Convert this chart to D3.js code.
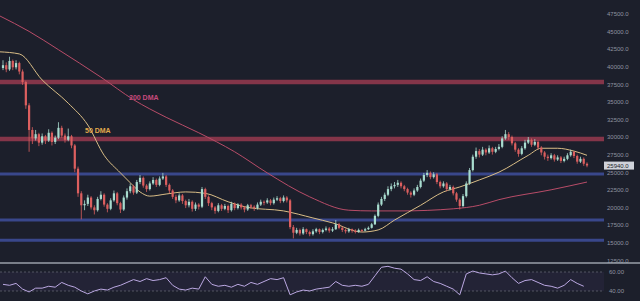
<!DOCTYPE html>
<html>
<head>
<meta charset="utf-8">
<script src="https://cdn.jsdelivr.net/npm/d3@7"></script>
<style>
  html, body { margin: 0; padding: 0; background: #1c1f2b; overflow: hidden; }
  svg { display: block; }
</style>
</head>
<body>
<script>
'use strict'

const BG      = '#1c1f2b'
const BULL    = '#a8dccf'
const BEAR    = '#dc5f5f'
const REDBAND = '#973a4f'
const BLUEBAND = '#3d4c96'
const MA50C   = '#d9bd86'
const MA200C  = '#b84c68'
const AXISTXT = '#9093a0'
const RSIC    = '#bba8e2'

// prices in thousands of USD, one candle per period, open = previous close
const firstOpen = 39.8
const closes = [
  40.2, 39.6, 40.8, 39.9, 40.5, 39.3, 37.8, 34.5, 31.0, 29.8,
  30.4, 29.2, 30.1, 29.5, 30.6, 29.3, 29.9, 31.3, 30.2, 29.6,
  30.1, 28.8, 25.5, 22.0, 20.3, 20.5, 21.4, 20.0, 19.6, 21.2,
  21.8, 20.4, 19.8, 21.0, 22.0, 20.6, 19.7, 21.4, 22.3, 23.0,
  22.1, 23.6, 24.2, 23.1, 22.6, 23.4, 23.9, 23.2, 24.1, 24.4,
  23.2, 22.4, 21.5, 21.0, 21.7, 20.9, 20.3, 20.8, 19.8, 20.4,
  20.1, 22.6, 21.5, 20.6, 20.0, 19.5, 20.3, 19.8, 20.2, 19.6,
  20.5, 19.9, 20.4, 20.0, 19.7, 20.3, 20.1, 19.9, 20.4, 20.8,
  20.7, 21.0, 20.6, 21.1, 21.3, 20.9, 21.4, 21.0, 17.2, 16.4,
  16.8, 16.3, 16.9, 16.5, 16.2, 16.6, 16.9, 16.5, 16.8, 17.0,
  16.7, 16.9, 17.6, 17.1, 16.8, 16.6, 16.9, 16.7, 16.5, 16.8,
  16.7, 16.9, 17.1, 17.6, 18.8, 20.4, 21.2, 21.8, 22.6, 23.0,
  23.2, 23.5, 23.0, 22.6, 22.1, 21.8, 22.4, 22.9, 23.8, 24.6,
  24.9, 24.3, 24.7, 23.6, 23.0, 23.4, 22.6, 22.9, 22.0, 21.1,
  20.2, 21.6, 23.4, 25.3, 27.2, 28.0, 27.5, 28.2, 27.8, 28.4,
  27.9, 28.3, 28.6, 29.8, 30.4, 30.0, 29.1, 28.2, 27.6, 28.4,
  29.2, 29.6, 28.9, 29.3, 28.5, 27.8, 27.2, 27.0, 27.4, 26.8,
  27.1, 26.6, 26.9, 27.4, 27.9, 27.3, 26.5, 26.9, 26.2, 25.95
]
const highs = [
  40.9, 40.6, 41.4, 41.0, 40.9, 40.7, 39.6, 38.0, 34.8, 31.4,
  31.0, 30.6, 30.5, 30.3, 31.1, 30.8, 30.2, 32.1, 31.6, 30.5,
  31.2, 30.3, 29.0, 25.8, 22.3, 21.0, 21.8, 21.6, 20.3, 21.5,
  22.3, 22.0, 20.6, 21.3, 22.4, 22.2, 20.8, 21.7, 22.7, 23.4,
  23.2, 23.9, 24.6, 24.4, 23.3, 23.7, 24.3, 24.1, 24.4, 24.9,
  24.6, 23.4, 22.6, 21.8, 22.0, 21.9, 21.1, 21.2, 21.0, 20.7,
  20.6, 22.9, 22.8, 21.7, 20.8, 20.2, 20.6, 20.5, 20.5, 20.4,
  20.8, 20.7, 20.6, 20.6, 20.2, 20.5, 20.5, 20.3, 20.7, 21.1,
  21.0, 21.3, 21.2, 21.4, 21.6, 21.5, 21.7, 21.6, 21.2, 17.5,
  17.1, 17.0, 17.2, 17.0, 16.7, 16.9, 17.1, 17.0, 17.0, 17.3,
  17.2, 17.2, 18.2, 17.8, 17.3, 17.0, 17.1, 17.0, 16.9, 17.0,
  16.9, 17.1, 17.3, 17.8, 19.0, 20.7, 21.5, 22.1, 23.0, 23.4,
  23.6, 23.9, 23.7, 23.2, 22.8, 22.3, 22.7, 23.2, 24.1, 24.9,
  25.3, 25.1, 25.0, 24.9, 23.8, 23.7, 23.6, 23.2, 23.1, 22.2,
  21.3, 21.9, 23.7, 25.6, 27.5, 28.5, 28.3, 28.6, 28.4, 28.8,
  28.6, 28.6, 29.0, 30.1, 31.0, 30.7, 30.2, 29.3, 28.4, 28.7,
  29.6, 30.0, 29.8, 29.7, 29.5, 28.7, 28.0, 27.5, 27.7, 27.6,
  27.4, 27.3, 27.2, 27.7, 28.2, 28.0, 27.5, 27.2, 27.1, 26.4
]
const lows = [
  39.5, 39.2, 39.4, 39.5, 39.6, 38.9, 37.4, 34.0, 27.9, 29.0,
  29.5, 28.7, 28.9, 29.0, 29.3, 28.8, 29.0, 29.7, 29.9, 29.2,
  29.4, 28.4, 25.0, 21.5, 18.3, 19.6, 20.2, 19.7, 19.0, 19.4,
  21.0, 20.1, 19.3, 19.6, 20.8, 20.3, 19.2, 19.5, 21.1, 22.0,
  21.8, 21.9, 23.3, 22.8, 22.2, 22.4, 23.2, 22.9, 23.0, 23.9,
  22.9, 22.0, 21.2, 20.6, 20.8, 20.5, 19.9, 20.0, 19.4, 19.5,
  19.7, 19.9, 21.2, 20.2, 19.6, 19.1, 19.3, 19.5, 19.6, 19.2,
  19.4, 19.6, 19.7, 19.7, 19.3, 19.5, 19.8, 19.5, 19.7, 20.2,
  20.3, 20.5, 20.3, 20.4, 20.9, 20.6, 20.7, 20.7, 16.9, 15.6,
  16.2, 16.0, 16.1, 16.2, 15.9, 16.0, 16.4, 16.2, 16.3, 16.6,
  16.4, 16.5, 16.8, 16.9, 16.5, 16.3, 16.4, 16.4, 16.3, 16.4,
  16.5, 16.6, 16.8, 17.0, 17.5, 18.6, 20.2, 20.9, 21.6, 22.3,
  22.7, 22.9, 22.7, 22.3, 21.8, 21.4, 21.6, 22.2, 22.7, 23.6,
  24.3, 24.0, 24.1, 23.3, 22.7, 22.8, 22.3, 22.4, 21.7, 20.8,
  19.7, 20.0, 21.4, 23.2, 25.1, 26.9, 27.1, 27.3, 27.4, 27.6,
  27.5, 27.7, 28.1, 28.4, 29.6, 29.6, 28.8, 27.9, 27.2, 27.4,
  28.2, 29.0, 28.6, 28.7, 28.2, 27.4, 26.8, 26.6, 26.8, 26.5,
  26.6, 26.3, 26.4, 26.7, 27.2, 27.0, 26.2, 26.3, 25.9, 25.7
]

// moving averages at a few candle indices
const ma50Days   = [-1, 5, 12, 20, 26, 31, 36, 39, 42, 45, 50, 56, 62, 69, 75, 86, 95, 101, 110, 115, 120, 128, 135, 140, 146, 152, 161, 165, 170, 175, 179]
const ma50Values = [42.1, 41.8, 38.1, 34.8, 31.7, 27.4, 24.9, 23.5, 22.2, 21.6, 21.9, 22.2, 22.0, 20.8, 20.0, 19.5, 18.5, 17.8, 16.5, 16.8, 18.2, 20.3, 22.2, 22.9, 23.9, 25.0, 27.4, 28.4, 28.4, 28.0, 27.4]
const ma200Days   = [-1, 8, 17, 30, 40, 50, 60, 71, 81, 94, 106, 113, 122, 138, 146, 152, 168, 179]
const ma200Values = [47.2, 45.0, 42.4, 38.5, 35.3, 32.8, 30.6, 27.9, 24.9, 21.5, 19.6, 19.5, 19.5, 19.8, 20.3, 21.1, 22.5, 23.6]

// RSI, one value every 2 candles
const rsiStep = 2
const rsiValues = [
  47, 46, 48, 42, 39, 43, 43, 45, 44, 49,
  46, 44, 40, 37, 40, 42, 41, 44, 46, 49,
  52, 50, 53, 51, 52, 54, 46, 42, 41, 43,
  42, 55, 47, 45, 46, 44, 47, 45, 49, 47,
  50, 53, 52, 54, 36, 39, 41, 40, 42, 43,
  44, 50, 46, 45, 46, 45, 47, 56, 65, 66,
  64, 63, 58, 52, 51, 55, 50, 48, 45, 42,
  36, 58, 61, 59, 58, 57, 58, 61, 54, 48,
  51, 52, 49, 46, 45, 43, 46, 52, 48, 45
]

const redLevels  = [37.8, 29.7]
const blueLevels = [24.75, 18.2, 15.35]
const priceTicks = [12.5, 15, 17.5, 20, 22.5, 25, 27.5, 30, 32.5, 35, 37.5, 40, 42.5, 45, 47.5]
const rsiTicks   = [40, 60]
const lastPrice  = 25.94

const W = 640, H = 301
const plotRight = 604
const paneBottom = 263

const svg = d3.select('body')
  .append('svg')
  .attr('width', W)
  .attr('height', H)
  .style('font-family', '"Liberation Sans", Arial, sans-serif')

svg.append('rect').attr('width', W).attr('height', H).attr('fill', BG)

const x = d3.scaleLinear().domain([0, closes.length - 1]).range([3, 587])
const y = d3.scaleLinear().domain([12.5, 47.5]).range([260.2, 13.8])
const yr = d3.scaleLinear().domain([40, 60]).range([291, 272])

svg.append('clipPath').attr('id', 'price-clip')
  .append('rect').attr('width', plotRight).attr('height', paneBottom)

const pane = svg.append('g').attr('clip-path', 'url(#price-clip)')

// support / resistance bands
pane.selectAll('.red-level')
  .data(redLevels)
  .join('line')
  .attr('x1', 0).attr('x2', plotRight)
  .attr('y1', d => y(d)).attr('y2', d => y(d))
  .attr('stroke', REDBAND)
  .attr('stroke-width', 4.5)
  .attr('opacity', 0.85)

pane.selectAll('.blue-level')
  .data(blueLevels)
  .join('line')
  .attr('x1', 0).attr('x2', plotRight)
  .attr('y1', d => y(d)).attr('y2', d => y(d))
  .attr('stroke', BLUEBAND)
  .attr('stroke-width', 3)
  .attr('opacity', 0.9)

// moving averages
const maLine = d3.line()
  .x(d => x(d[0]))
  .y(d => y(d[1]))
  .curve(d3.curveMonotoneX)

pane.append('path')
  .attr('d', maLine(d3.zip(ma200Days, ma200Values)))
  .attr('fill', 'none')
  .attr('stroke', MA200C)
  .attr('stroke-width', 1)

pane.append('path')
  .attr('d', maLine(d3.zip(ma50Days, ma50Values)))
  .attr('fill', 'none')
  .attr('stroke', MA50C)
  .attr('stroke-width', 1)

// candles
const opens = closes.map((c, i) => i ? closes[i - 1] : firstOpen)
const candles = pane.append('g')
  .selectAll('g')
  .data(d3.range(closes.length))
  .join('g')
  .attr('fill', i => closes[i] >= opens[i] ? BULL : BEAR)
  .attr('stroke', i => closes[i] >= opens[i] ? BULL : BEAR)

candles.append('line')
  .attr('x1', i => x(i)).attr('x2', i => x(i))
  .attr('y1', i => y(highs[i])).attr('y2', i => y(lows[i]))
  .attr('stroke-width', 0.8)

candles.append('rect')
  .attr('x', i => x(i) - 1.1)
  .attr('width', 2.2)
  .attr('y', i => y(Math.max(opens[i], closes[i])))
  .attr('height', i => Math.max(1, Math.abs(y(opens[i]) - y(closes[i]))))
  .attr('stroke', 'none')

// labels on the averages
pane.append('text')
  .attr('x', 129).attr('y', 100)
  .attr('fill', '#c84a7d')
  .attr('font-size', 7)
  .attr('font-weight', 'bold')
  .text('200 DMA')

pane.append('text')
  .attr('x', 85).attr('y', 133)
  .attr('fill', '#e2aa4c')
  .attr('font-size', 7)
  .attr('font-weight', 'bold')
  .text('50 DMA')

// price axis
const priceAxis = svg.append('g')
  .attr('transform', 'translate(607,0)')
  .call(d3.axisRight(y).tickValues(priceTicks).tickSize(0).tickPadding(0)
    .tickFormat(d => d3.format('.1f')(d * 1000)))
priceAxis.select('.domain').remove()
priceAxis.selectAll('text')
  .attr('fill', AXISTXT)
  .attr('font-size', 6)
  .attr('font-family', '"Liberation Sans", Arial, sans-serif')

// last price tag
svg.append('rect')
  .attr('x', 604).attr('y', y(lastPrice) - 4)
  .attr('width', 30).attr('height', 8)
  .attr('fill', '#cfd2da')
svg.append('text')
  .attr('x', 607).attr('y', y(lastPrice))
  .attr('dy', '0.35em')
  .attr('fill', '#1c1f2b')
  .attr('font-size', 6)
  .text(d3.format('.1f')(lastPrice * 1000))

// pane separator
svg.append('line')
  .attr('x1', 0).attr('x2', W)
  .attr('y1', paneBottom).attr('y2', paneBottom)
  .attr('stroke', '#9aa0aa')
  .attr('stroke-width', 1.5)

// RSI pane
svg.append('rect')
  .attr('x', 0).attr('width', plotRight)
  .attr('y', yr(60)).attr('height', yr(40) - yr(60))
  .attr('fill', 'rgba(126, 87, 194, 0.08)')

svg.selectAll('.rsi-level')
  .data(rsiTicks)
  .join('line')
  .attr('x1', 0).attr('x2', plotRight)
  .attr('y1', d => yr(d)).attr('y2', d => yr(d))
  .attr('stroke', '#5f626e')
  .attr('stroke-dasharray', '2,2')
  .attr('stroke-width', 0.8)

svg.append('path')
  .attr('d', d3.line()
    .x((d, j) => x(j * rsiStep))
    .y(d => yr(d))(rsiValues))
  .attr('fill', 'none')
  .attr('stroke', RSIC)
  .attr('stroke-width', 1)

const rsiAxis = svg.append('g')
  .attr('transform', 'translate(609,0)')
  .call(d3.axisRight(yr).tickValues(rsiTicks).tickSize(0).tickPadding(0)
    .tickFormat(d3.format('.2f')))
rsiAxis.select('.domain').remove()
rsiAxis.selectAll('text')
  .attr('fill', AXISTXT)
  .attr('font-size', 6)
  .attr('font-family', '"Liberation Sans", Arial, sans-serif')
</script>
</body>
</html>
